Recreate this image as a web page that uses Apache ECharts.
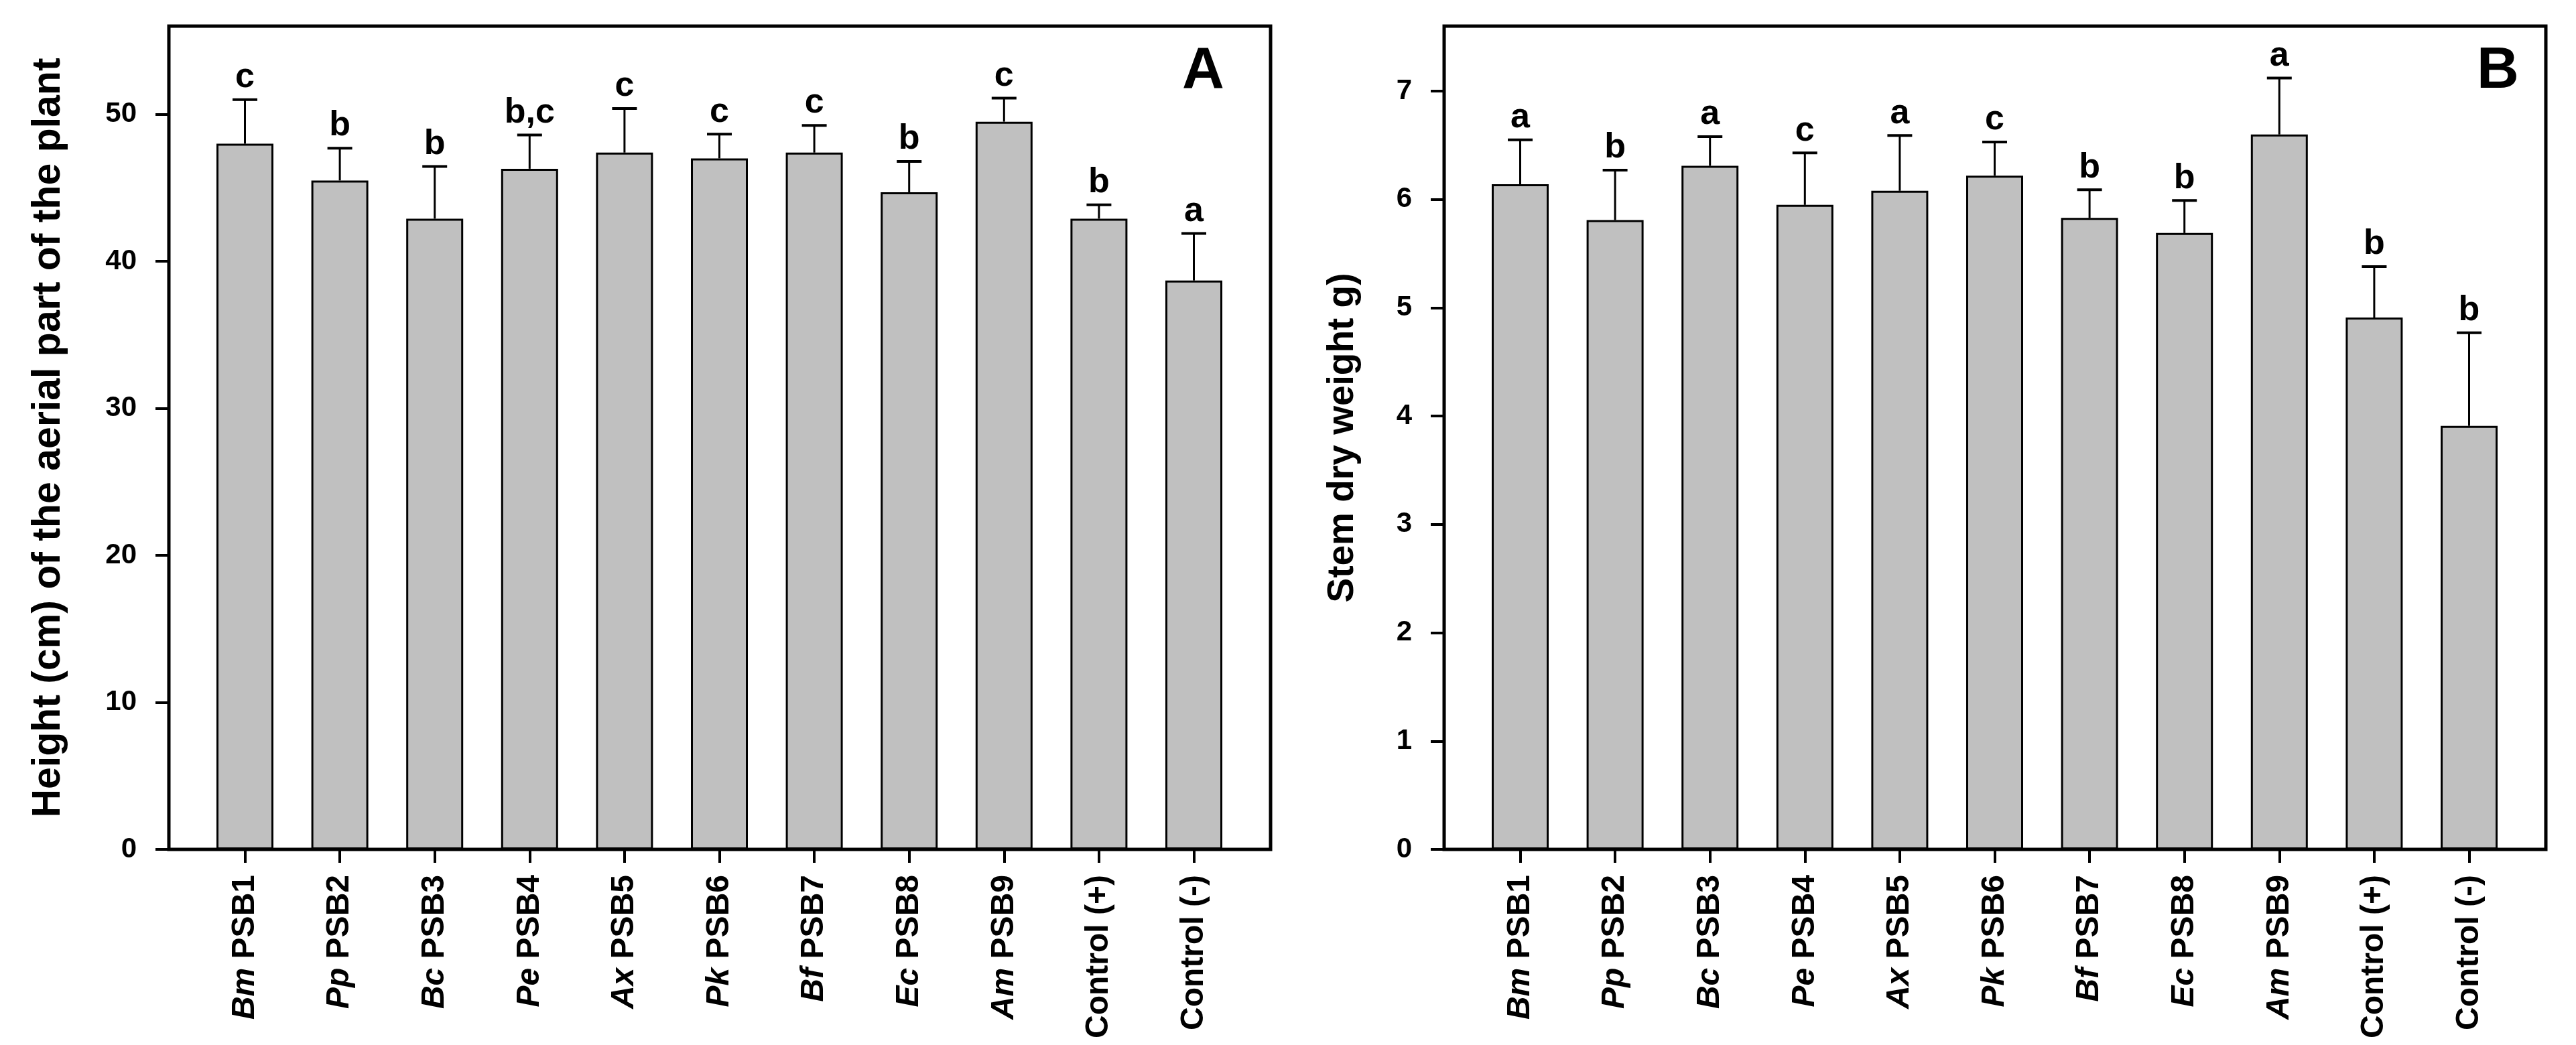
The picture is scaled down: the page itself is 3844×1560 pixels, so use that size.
<!DOCTYPE html>
<html>
<head>
<meta charset="utf-8">
<script src="https://cdn.jsdelivr.net/npm/echarts@6/dist/echarts.min.js"></script>
<style>
html,body{margin:0;padding:0;background:#fff;}
#chart{width:3844px;height:1560px;}
</style>
</head>
<body>
<div id="chart"></div>
<script>
// ---------- data ----------
const categories = ['Bm PSB1','Pp PSB2','Bc PSB3','Pe PSB4','Ax PSB5','Pk PSB6','Bf PSB7','Ec PSB8','Am PSB9','Control (+)','Control (-)'];

const heightMean    = [48.0, 45.5, 42.9, 46.3, 47.4, 47.0, 47.4, 44.7, 49.5, 42.9, 38.7];
const heightSD      = [3.0, 2.2, 3.55, 2.3, 3.0, 1.65, 1.85, 2.1, 1.6, 0.95, 3.2];
const heightLetters = ['c','b','b','b,c','c','c','c','b','c','b','a'];
const heightTicks   = [0, 10, 20, 30, 40, 50];
const heightMax     = 56;

const stemMean    = [6.14, 5.81, 6.31, 5.95, 6.08, 6.22, 5.83, 5.69, 6.60, 4.91, 3.91];
const stemSD      = [0.41, 0.46, 0.27, 0.48, 0.51, 0.31, 0.26, 0.30, 0.52, 0.47, 0.86];
const stemLetters = ['a','b','a','c','a','c','b','b','a','b','b'];
const stemTicks   = [0, 1, 2, 3, 4, 5, 6, 7];
const stemMax     = 7.6;

const titleA = 'Height (cm) of the aerial part of the plant';
const titleB = 'Stem dry weight g)';

// ---------- styling / layout ----------
const FONT = '"Liberation Sans", Arial, Helvetica, sans-serif';
const BAR_COLOR = '#c0c0c0';
const PLOT_TOP = 39, PLOT_H = 1229;
const FRAME_W = 1644;
const PAD = 113.5;           // axis to first bar centre
const SLOT = 141.6;          // category spacing
const panels = [
  {frameLeft: 252,  mean: heightMean, sd: heightSD, letters: heightLetters, ticks: heightTicks, max: heightMax, title: titleA, nameGap: 150, nameSize: 59, tag: 'A', tagLeft: 1764},
  {frameLeft: 2155, mean: stemMean,   sd: stemSD,   letters: stemLetters,   ticks: stemTicks,   max: stemMax,   title: titleB, nameGap: 124, nameSize: 55, tag: 'B', tagLeft: 3696}
];

function labelFmt(v) {
  if (v.indexOf('Control') === 0) return '{n|' + v + '}';
  const sp = v.indexOf(' ');
  return '{i|' + v.slice(0, sp) + '}{n| ' + v.slice(sp + 1) + '}';
}

function makeErr(letters) {
  return function (params, api) {
    const idx = api.value(0);
    const m = api.value(1), s = api.value(2);
    const base = api.coord([idx, m]);
    const top = api.coord([idx, m + s]);
    const half = 18.5;
    return {
      type: 'group',
      children: [
        {type: 'line', shape: {x1: base[0], y1: base[1], x2: top[0], y2: top[1]}, style: {stroke: '#000', lineWidth: 3}},
        {type: 'line', shape: {x1: top[0] - half, y1: top[1], x2: top[0] + half, y2: top[1]}, style: {stroke: '#000', lineWidth: 4}},
        {type: 'text', x: top[0], y: top[1] - 7,
          style: {text: letters[params.dataIndex], fontFamily: FONT, fontWeight: 'bold', fontSize: 52,
                  fill: '#000', align: 'center', verticalAlign: 'bottom'}}
      ]
    };
  };
}

const grid = [], xAxis = [], yAxis = [], series = [], graphic = [];
panels.forEach(function (p, k) {
  const gFrame = k * 2, gBars = k * 2 + 1;
  grid.push({left: p.frameLeft, top: PLOT_TOP, width: FRAME_W, height: PLOT_H,
             show: true, borderColor: '#000', borderWidth: 5, backgroundColor: 'rgba(0,0,0,0)'});
  grid.push({left: p.frameLeft + PAD - SLOT / 2, top: PLOT_TOP, width: SLOT * categories.length, height: PLOT_H});

  xAxis.push({gridIndex: gFrame, type: 'value', min: 0, max: 1, show: false});
  xAxis.push({
    gridIndex: gBars, type: 'category', data: categories, boundaryGap: true,
    axisLine: {show: false},
    axisTick: {show: true, alignWithLabel: true, length: 20, lineStyle: {color: '#000', width: 4}},
    axisLabel: {
      rotate: 90, margin: 38, interval: 0, color: '#000', formatter: labelFmt,
      rich: {
        i: {fontFamily: FONT, fontWeight: 'bold', fontStyle: 'italic', fontSize: 48, color: '#000'},
        n: {fontFamily: FONT, fontWeight: 'bold', fontSize: 48, color: '#000'}
      }
    },
    splitLine: {show: false}
  });

  yAxis.push({
    gridIndex: gFrame, type: 'value', min: 0, max: p.max,
    axisLine: {show: true, lineStyle: {color: '#000', width: 4}},
    axisTick: {show: true, inside: false, length: 20, customValues: p.ticks, lineStyle: {color: '#000', width: 4}},
    axisLabel: {customValues: p.ticks, margin: 48, fontFamily: FONT, fontWeight: 'bold', fontSize: 42, color: '#000'},
    splitLine: {show: false},
    name: p.title, nameLocation: 'middle', nameGap: p.nameGap, nameRotate: 90,
    nameTextStyle: {fontFamily: FONT, fontWeight: 'bold', fontSize: p.nameSize, color: '#000'}
  });
  yAxis.push({gridIndex: gBars, type: 'value', min: 0, max: p.max, show: false, splitLine: {show: false}});

  series.push({
    type: 'bar', xAxisIndex: gBars, yAxisIndex: gBars, data: p.mean, barWidth: 85,
    itemStyle: {color: BAR_COLOR, borderColor: '#000', borderWidth: 3},
    silent: true, z: 2
  });
  series.push({
    type: 'custom', xAxisIndex: gBars, yAxisIndex: gBars,
    data: p.mean.map(function (m, i) { return [i, m, p.sd[i]]; }),
    encode: {x: 0, y: 1},
    renderItem: makeErr(p.letters), silent: true, z: 3
  });

  graphic.push({
    type: 'text', left: p.tagLeft, top: 64,
    style: {text: p.tag, fontFamily: FONT, fontWeight: 'bold', fontSize: 87, fill: '#000'}
  });
});

const chart = echarts.init(document.getElementById('chart'), null, {renderer: 'canvas'});
chart.setOption({
  animation: false,
  backgroundColor: '#fff',
  grid: grid, xAxis: xAxis, yAxis: yAxis, series: series, graphic: graphic
});
</script>
</body>
</html>
